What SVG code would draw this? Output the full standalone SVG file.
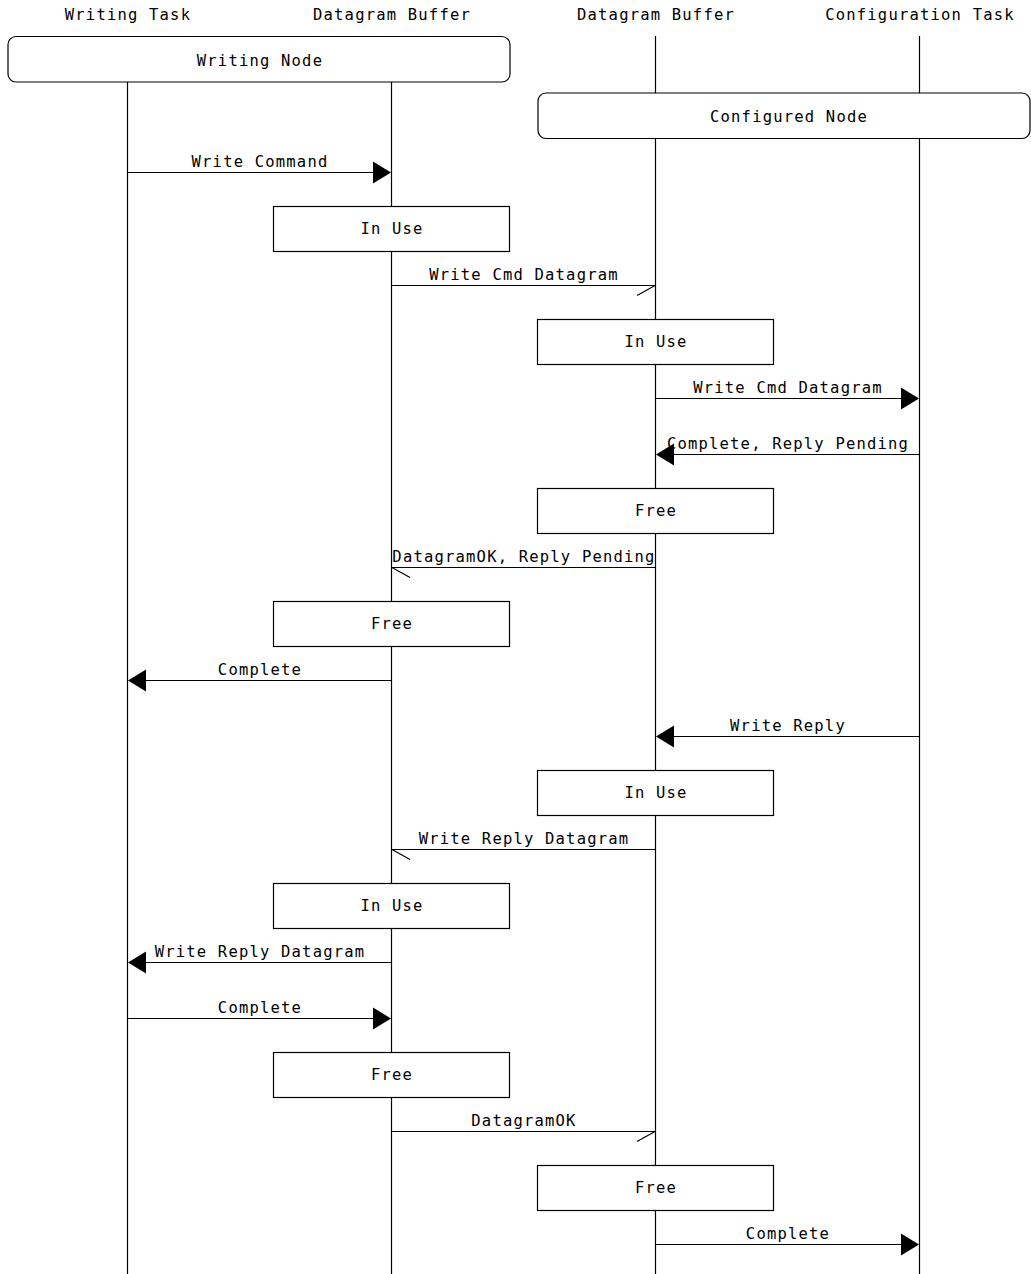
<svg xmlns="http://www.w3.org/2000/svg" width="1031" height="1274" viewBox="0 0 1031 1274">
<style>
text{font-family:"DejaVu Sans Mono","Liberation Mono",monospace;font-size:15.5px;letter-spacing:1.2px;fill:#000;text-anchor:middle}
.ll{stroke:#000;stroke-width:1.2;fill:none}
.box{fill:#fff;stroke:#000;stroke-width:1.2}
.msg{stroke:#000;stroke-width:1.2;fill:none}
.ah{fill:#000;stroke:none}
</style>
<rect width="1031" height="1274" fill="#fff"/>
<g id="lifelines">
<g id="writing-task"><text x="128" y="20">Writing Task</text><line class="ll" x1="127.5" y1="36" x2="127.5" y2="1274"/></g>
<g id="buffer-a"><text x="392" y="20">Datagram Buffer</text><line class="ll" x1="391.5" y1="36" x2="391.5" y2="1274"/></g>
<g id="buffer-b"><text x="656" y="20">Datagram Buffer</text><line class="ll" x1="655.5" y1="36" x2="655.5" y2="1274"/></g>
<g id="config-task"><text x="920" y="20">Configuration Task</text><line class="ll" x1="919.5" y1="36" x2="919.5" y2="1274"/></g>
</g>
<g id="writing-node"><rect class="box" x="8" y="36.5" width="502" height="45.5" rx="8"/><text x="260" y="66">Writing Node</text></g>
<g id="configured-node"><rect class="box" x="538" y="93" width="492" height="45.5" rx="8"/><text x="789" y="122">Configured Node</text></g>
<g id="connectors">
<line class="msg" x1="127.5" y1="172.5" x2="380" y2="172.5"/><polygon class="ah" points="391,172.5 373,161.5 373,183.5"/><text x="260" y="167">Write Command</text>
<line class="msg" x1="391.5" y1="285.5" x2="655.5" y2="285.5"/><line class="msg" x1="655" y1="285.5" x2="637" y2="295.5"/><text x="524" y="280">Write Cmd Datagram</text>
<line class="msg" x1="655.5" y1="398.5" x2="908" y2="398.5"/><polygon class="ah" points="919,398.5 901,387.5 901,409.5"/><text x="788" y="393">Write Cmd Datagram</text>
<line class="msg" x1="666" y1="454.5" x2="919.5" y2="454.5"/><polygon class="ah" points="656,454.5 674,443.5 674,465.5"/><text x="788" y="449">Complete, Reply Pending</text>
<line class="msg" x1="391.5" y1="567.5" x2="655.5" y2="567.5"/><line class="msg" x1="392" y1="567.5" x2="410" y2="577.5"/><text x="524" y="562">DatagramOK, Reply Pending</text>
<line class="msg" x1="138" y1="680.5" x2="391.5" y2="680.5"/><polygon class="ah" points="128,680.5 146,669.5 146,691.5"/><text x="260" y="675">Complete</text>
<line class="msg" x1="666" y1="736.5" x2="919.5" y2="736.5"/><polygon class="ah" points="656,736.5 674,725.5 674,747.5"/><text x="788" y="731">Write Reply</text>
<line class="msg" x1="391.5" y1="849.5" x2="655.5" y2="849.5"/><line class="msg" x1="392" y1="849.5" x2="410" y2="859.5"/><text x="524" y="844">Write Reply Datagram</text>
<line class="msg" x1="138" y1="962.5" x2="391.5" y2="962.5"/><polygon class="ah" points="128,962.5 146,951.5 146,973.5"/><text x="260" y="957">Write Reply Datagram</text>
<line class="msg" x1="127.5" y1="1018.5" x2="380" y2="1018.5"/><polygon class="ah" points="391,1018.5 373,1007.5 373,1029.5"/><text x="260" y="1013">Complete</text>
<line class="msg" x1="391.5" y1="1131.5" x2="655.5" y2="1131.5"/><line class="msg" x1="655" y1="1131.5" x2="637" y2="1141.5"/><text x="524" y="1126">DatagramOK</text>
<line class="msg" x1="655.5" y1="1244.5" x2="908" y2="1244.5"/><polygon class="ah" points="919,1244.5 901,1233.5 901,1255.5"/><text x="788" y="1239">Complete</text>
</g>
<g id="state-boxes">
<g id="s1"><rect class="box" x="273.5" y="206.5" width="236" height="45"/><text x="392" y="234">In Use</text></g>
<g id="s2"><rect class="box" x="537.5" y="319.5" width="236" height="45"/><text x="656" y="347">In Use</text></g>
<g id="s3"><rect class="box" x="537.5" y="488.5" width="236" height="45"/><text x="656" y="516">Free</text></g>
<g id="s4"><rect class="box" x="273.5" y="601.5" width="236" height="45"/><text x="392" y="629">Free</text></g>
<g id="s5"><rect class="box" x="537.5" y="770.5" width="236" height="45"/><text x="656" y="798">In Use</text></g>
<g id="s6"><rect class="box" x="273.5" y="883.5" width="236" height="45"/><text x="392" y="911">In Use</text></g>
<g id="s7"><rect class="box" x="273.5" y="1052.5" width="236" height="45"/><text x="392" y="1080">Free</text></g>
<g id="s8"><rect class="box" x="537.5" y="1165.5" width="236" height="45"/><text x="656" y="1193">Free</text></g>
</g>
</svg>
